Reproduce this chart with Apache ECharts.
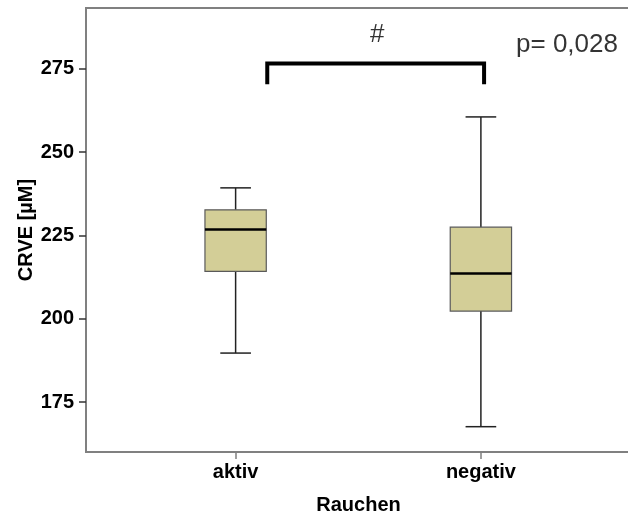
<!DOCTYPE html>
<html>
<head>
<meta charset="utf-8">
<script src="https://cdn.jsdelivr.net/npm/echarts@6/dist/echarts.min.js"></script>
<style>html,body{margin:0;padding:0;background:#fff}#c{width:628px;height:515px}</style>
</head>
<body>
<div id="c"></div>
<script>
// Categories and box statistics [min, Q1, median, Q3, max]
const categories = ['aktiv', 'negativ'];
const categoryPositions = [1, 2];
const boxStats = [
  [189.7, 214.2, 226.8, 232.7, 239.3],
  [167.6, 202.3, 213.6, 227.5, 260.6]
];
const yTickValues = [175, 200, 225, 250, 275];
const yAxisName = 'CRVE [µM]';
const xAxisName = 'Rauchen';
// Significance bracket (x in category units, y in µM)
const bracketPoints = [[1.129, 270.4], [1.129, 276.6], [2.013, 276.6], [2.013, 270.4]];
const hashLabel = { text: '#', pos: [1.577, 285.3] };
const pLabel = { text: 'p= 0,028', pos: [2.351, 282.3] };

const FONT = '"Liberation Sans", Arial, sans-serif';
const chart = echarts.init(document.getElementById('c'), null, { renderer: 'canvas' });

const boxData = boxStats.map((s, i) => [categoryPositions[i]].concat(s));

chart.setOption({
  animation: false,
  backgroundColor: '#ffffff',
  grid: { left: 86, top: 8, right: -3, bottom: 63, outerBoundsMode: 'none', containLabel: false,
          show: true, borderColor: '#808080', borderWidth: 2, backgroundColor: 'transparent' },
  xAxis: {
    type: 'value', min: 0.39, max: 2.612,
    splitLine: { show: false },
    axisLine: { show: true, lineStyle: { color: '#808080', width: 2 } },
    axisTick: { show: true, customValues: categoryPositions, length: 7, lineStyle: { color: '#808080', width: 1.5 } },
    axisLabel: {
      customValues: categoryPositions, margin: 10,
      formatter: v => categories[categoryPositions.indexOf(v)] || '',
      fontFamily: FONT, fontWeight: 'bold', fontSize: 20, color: '#000'
    },
    name: xAxisName, nameLocation: 'middle', nameGap: 43, nameMoveOverlap: false,
    nameTextStyle: { fontFamily: FONT, fontWeight: 'bold', fontSize: 20, color: '#000' }
  },
  yAxis: {
    type: 'value', min: 160, max: 293.3,
    splitLine: { show: false },
    axisLine: { show: true, lineStyle: { color: '#808080', width: 2 } },
    axisTick: { show: true, customValues: yTickValues, length: 7, lineStyle: { color: '#333', width: 1.5 } },
    axisLabel: {
      customValues: yTickValues, margin: 12,
      fontFamily: FONT, fontWeight: 'bold', fontSize: 20, color: '#000'
    },
    name: yAxisName, nameLocation: 'middle', nameGap: 50, nameMoveOverlap: false,
    nameTextStyle: { fontFamily: FONT, fontWeight: 'bold', fontSize: 20, color: '#000' }
  },
  series: [
    {
      type: 'custom',
      data: boxData,
      renderItem: function (params, api) {
        const x = api.value(0);
        const mn = api.value(1), q1 = api.value(2), md = api.value(3), q3 = api.value(4), mx = api.value(5);
        const hb = 0.125, hc = 0.0625;
        const pMin = api.coord([x, mn]), pQ1 = api.coord([x, q1]), pMd = api.coord([x, md]);
        const pQ3 = api.coord([x, q3]), pMax = api.coord([x, mx]);
        const bl = api.coord([x - hb, q3]), br = api.coord([x + hb, q1]);
        const cl = api.coord([x - hc, mx])[0], cr = api.coord([x + hc, mx])[0];
        const wStyle = { stroke: '#222', lineWidth: 1.5 };
        return {
          type: 'group',
          children: [
            { type: 'line', shape: { x1: pMax[0], y1: pMax[1], x2: pQ3[0], y2: pQ3[1] }, style: wStyle },
            { type: 'line', shape: { x1: pQ1[0], y1: pQ1[1], x2: pMin[0], y2: pMin[1] }, style: wStyle },
            { type: 'line', shape: { x1: cl, y1: pMax[1], x2: cr, y2: pMax[1] }, style: wStyle },
            { type: 'line', shape: { x1: cl, y1: pMin[1], x2: cr, y2: pMin[1] }, style: wStyle },
            { type: 'rect', shape: { x: bl[0], y: bl[1], width: br[0] - bl[0], height: br[1] - bl[1] },
              style: { fill: '#d3ce97', stroke: '#5a5a5a', lineWidth: 1.2 } },
            { type: 'line', shape: { x1: bl[0], y1: pMd[1], x2: br[0], y2: pMd[1] }, style: { stroke: '#000', lineWidth: 2.5 } }
          ]
        };
      }
    },
    {
      type: 'line',
      data: bracketPoints,
      symbol: 'none',
      lineStyle: { color: '#000', width: 4, cap: 'butt', join: 'miter' },
      silent: true
    },
    {
      type: 'scatter',
      symbolSize: 0,
      silent: true,
      data: [
        { value: hashLabel.pos, label: { formatter: hashLabel.text } },
        { value: pLabel.pos, label: { formatter: pLabel.text } }
      ],
      label: { show: true, position: 'inside', fontFamily: FONT, fontSize: 26, color: '#000', textBorderWidth: 0 }
    }
  ]
});
</script>
</body>
</html>
